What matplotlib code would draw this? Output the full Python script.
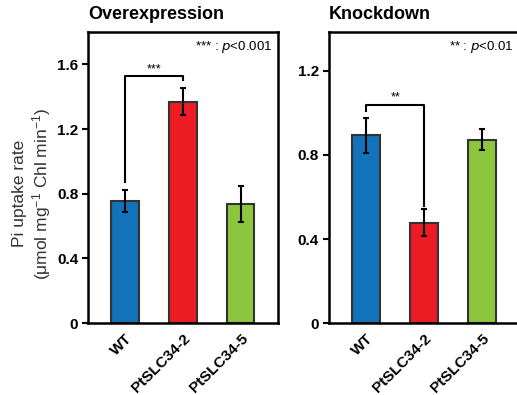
import matplotlib.pyplot as plt
import numpy as np

# ==============================
# data
# ==============================
lines = ["WT", "PtSLC34-2", "PtSLC34-5"]
colors = ["#1272BA", "#ED1C24", "#8CC63F"]

over_mean = [0.755, 1.37, 0.735]
over_err = [0.07, 0.085, 0.11]

knock_mean = [0.893, 0.478, 0.873]
knock_err = [0.085, 0.065, 0.05]

plt.rcParams["font.family"] = ["Liberation Sans", "DejaVu Sans"]
plt.rcParams["mathtext.default"] = "regular"

fig = plt.figure(figsize=(5.17, 3.95), dpi=100)
ax1 = fig.add_axes([0.170, 0.182, 0.367, 0.737])
ax2 = fig.add_axes([0.636, 0.182, 0.369, 0.737])


def draw_panel(ax, means, errs, ymax, yticks, title, note):
    x = np.arange(len(lines))
    ax.bar(x, means, width=0.48, color=colors, edgecolor="#333333", linewidth=1.5, zorder=2)
    ax.errorbar(x, means, yerr=errs, fmt="none", ecolor="black",
                elinewidth=1.5, capsize=2, capthick=1.5, zorder=3)
    ax.set_xlim(-0.64, 2.64)
    ax.set_ylim(0, ymax)
    ax.set_yticks(yticks)
    ax.set_yticklabels(["0" if t == 0 else f"{t:.1f}" for t in yticks],
                       fontweight="bold", fontsize=11)
    ax.set_xticks(x)
    ax.set_xticklabels(lines, rotation=45, ha="right", rotation_mode="anchor",
                       fontweight="bold", fontsize=11)
    ax.tick_params(axis="x", length=0, pad=6)
    ax.tick_params(axis="y", direction="out", length=4, width=1.5, pad=3)
    for s in ax.spines.values():
        s.set_linewidth(1.8)
    ax.text(0.0, 1.03, title, transform=ax.transAxes, fontsize=13,
            fontweight="bold", ha="left", va="bottom")
    ax.text(0.97, 0.975, note, transform=ax.transAxes, fontsize=9.5,
            ha="right", va="top")


draw_panel(ax1, over_mean, over_err, 1.8, [0, 0.4, 0.8, 1.2, 1.6],
           "Overexpression", "*** : $\\it{p}$<0.001")
draw_panel(ax2, knock_mean, knock_err, 1.385, [0, 0.4, 0.8, 1.2],
           "Knockdown", "** : $\\it{p}$<0.01")
ax2.spines["right"].set_visible(False)

# significance brackets
ax1.plot([0, 0, 1, 1], [0.87, 1.525, 1.525, 1.505], color="black", lw=1.5)
ax1.text(0.5, 1.53, "***", ha="center", va="bottom", fontsize=9)
ax2.plot([0, 0, 1, 1], [1.01, 1.038, 1.038, 0.555], color="black", lw=1.5)
ax2.text(0.5, 1.043, "**", ha="center", va="bottom", fontsize=9)

fig.text(0.063, 0.51, "Pi uptake rate\n(μmol mg$^{-1}$ Chl min$^{-1}$)",
         rotation=90, ha="center", va="center", fontsize=12.5, color="#333333",
         linespacing=1.2)

plt.savefig("out.png", dpi=100)
